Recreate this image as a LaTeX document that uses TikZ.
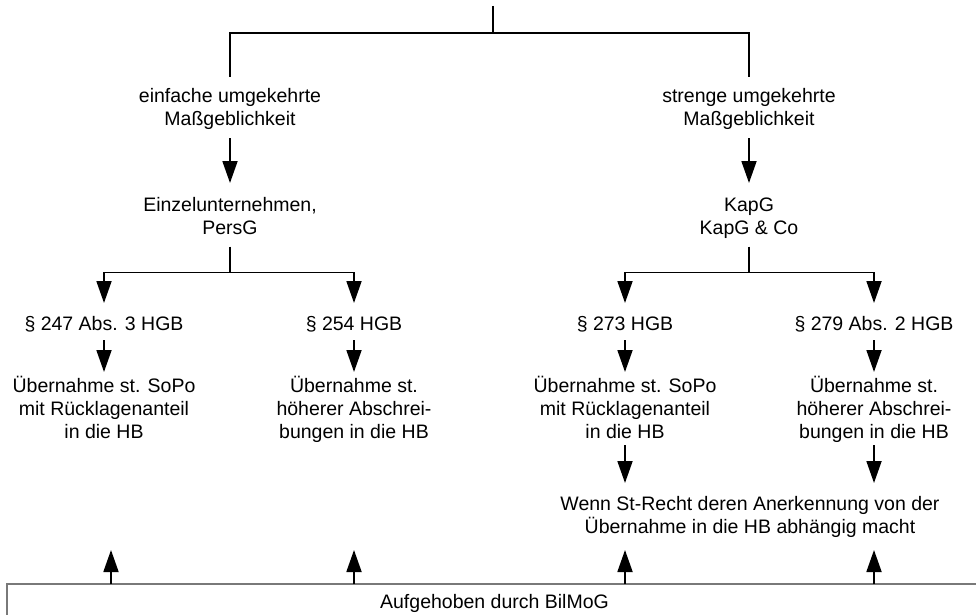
\documentclass[tikz,border=0pt]{standalone}
\usepackage{fontspec}
\setmainfont{Liberation Sans}
\usetikzlibrary{arrows.meta}

% invisible struts that set the gap between a text block and its connectors
\newcommand\tgap[1]{\rule{0pt}{#1}}
\newcommand\bgap[1]{\rule[-#1]{0pt}{#1}}

\begin{document}
\begin{tikzpicture}[x=1pt,y=-1pt,
  txt/.style={align=center, inner sep=0pt, outer sep=0pt, anchor=north,
              font=\fontsize{19.5}{23}\selectfont},
  conn/.style={line width=1.8pt, black},
  arr/.style={conn, -{Triangle[length=22pt,width=15pt]}},
  frame/.style={draw=gray!95!black, line width=1.8pt, fill=none,
                inner sep=0pt, outer sep=0pt, anchor=north west}]
\useasboundingbox (0,0) rectangle (976,615);

% top level
\coordinate (top) at (493,6);
\coordinate (fork) at (493,33);
\node[txt] (einf) at (230,77) {\tgap{25pt}einfache umgekehrte\\Maßgeblichkeit\bgap{13pt}};
\node[txt] (streng) at (749,77) {\tgap{25pt}strenge umgekehrte\\Maßgeblichkeit\bgap{13pt}};

% second level
\node[txt] (einz) at (230,183) {\tgap{28.5pt}Einzelunternehmen,\\PersG\bgap{12pt}};
\node[txt] (kapg) at (749,183) {\tgap{28.5pt}KapG\\KapG \& Co\bgap{12pt}};
\coordinate (forkL) at (230,272.5);
\coordinate (forkR) at (749,272.5);

% statutory provisions
\node[txt] (p247) at (104,303) {\tgap{27pt}§ 247 Abs. 3 HGB\bgap{10pt}};
\node[txt] (p254) at (354,303) {\tgap{27pt}§ 254 HGB\bgap{10pt}};
\node[txt] (p273) at (625,303) {\tgap{27pt}§ 273 HGB\bgap{10pt}};
\node[txt] (p279) at (874,303) {\tgap{27pt}§ 279 Abs. 2 HGB\bgap{10pt}};

% consequences
\node[txt] (u247) at (104,372) {\tgap{20pt}Übernahme st. SoPo\\mit Rücklagenanteil\\in die HB\bgap{7pt}};
\node[txt] (u254) at (354,372) {\tgap{20pt}Übernahme st.\\höherer Abschrei-\\bungen in die HB\bgap{7pt}};
\node[txt] (u273) at (625,372) {\tgap{20pt}Übernahme st. SoPo\\mit Rücklagenanteil\\in die HB\bgap{7pt}};
\node[txt] (u279) at (874,372) {\tgap{20pt}Übernahme st.\\höherer Abschrei-\\bungen in die HB\bgap{7pt}};

% condition for corporations
\node[txt] (wenn) at (750,483) {\tgap{27.5pt}Wenn St-Recht deren Anerkennung von der\\Übernahme in die HB abhängig macht\bgap{16.5pt}};

% abolition frame
\node[frame, minimum width=1000pt, minimum height=60pt] (bil) at (7,584) {};
\node[txt, anchor=base] (biltxt) at (494.5,608) {Aufgehoben durch BilMoG};
\coordinate (endA) at (111,550);
\coordinate (endB) at (354,550);

% tree connectors
\draw[conn] (top) -- (fork);
\draw[conn] (fork) -| (einf.north);
\draw[conn] (fork) -| (streng.north);
\draw[arr] (einf.south) -- (einz.north);
\draw[arr] (streng.south) -- (kapg.north);
\draw[conn] (einz.south) -- (forkL);
\draw[conn] (kapg.south) -- (forkR);
\draw[arr] (forkL) -| (p247.north);
\draw[arr] (forkL) -| (p254.north);
\draw[arr] (forkR) -| (p273.north);
\draw[arr] (forkR) -| (p279.north);
\draw[arr] (p247.south) -- (u247.north);
\draw[arr] (p254.south) -- (u254.north);
\draw[arr] (p273.south) -- (u273.north);
\draw[arr] (p279.south) -- (u279.north);
\draw[arr] (u273.south) -- (wenn.north -| u273.south);
\draw[arr] (u279.south) -- (wenn.north -| u279.south);

% arrows rising from the frame
\draw[arr] (bil.north west -| endA) -- (endA);
\draw[arr] (bil.north west -| endB) -- (endB);
\draw[arr] (bil.north west -| p273.south) -- (wenn.south -| p273.south);
\draw[arr] (bil.north west -| p279.south) -- (wenn.south -| p279.south);
\end{tikzpicture}
\end{document}
